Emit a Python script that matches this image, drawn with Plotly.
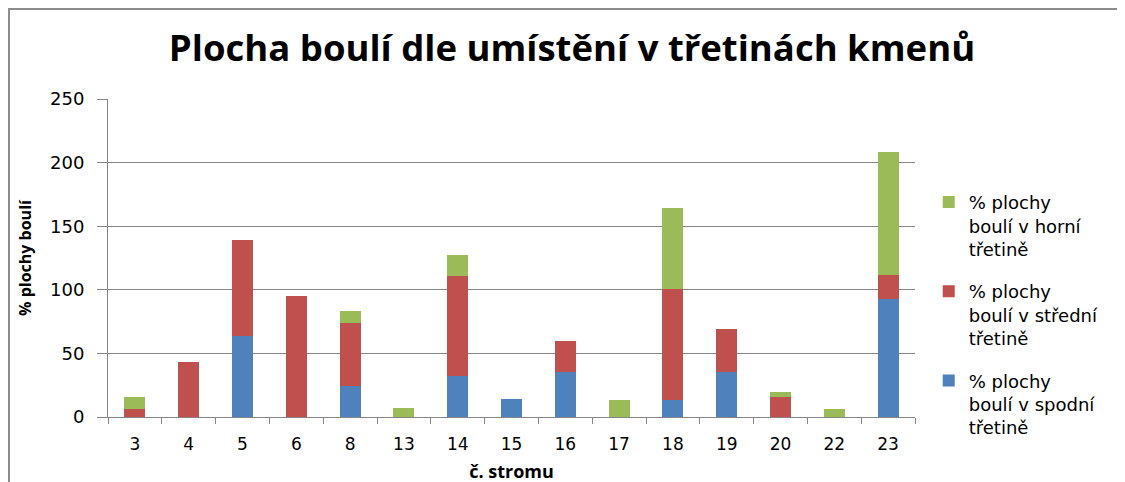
import plotly.graph_objects as go

categories = ["3", "4", "5", "6", "8", "13", "14", "15", "16", "17", "18", "19", "20", "22", "23"]
spodni = [0, 0, 64, 0, 24, 0, 32, 14, 35, 0, 13, 35, 0, 0, 93]
stredni = [6, 43, 75, 95, 50, 0, 79, 0, 25, 0, 88, 34, 16, 0, 19]
horni = [10, 0, 0, 0, 9, 7, 16, 0, 0, 13, 63, 0, 4, 6, 96]

names = ["% plochy<br>boulí v spodní<br>třetině",
         "% plochy<br>boulí v střední<br>třetině",
         "% plochy<br>boulí v horní<br>třetině"]
colors = ["#4F81BD", "#C0504D", "#9BBB59"]
ranks = [3, 2, 1]

small = "'DejaVu Sans', sans-serif"
bold = "'Open Sans', sans-serif"

fig = go.Figure()
for i, (vals, nm, col) in enumerate(zip([spodni, stredni, horni], names, colors)):
    fig.add_trace(go.Bar(x=categories, y=vals, name=nm, legendgroup=f"g{i}", legendrank=ranks[i],
                         marker=dict(color=col, line=dict(width=0))))

fig.update_layout(
    width=1125, height=482,
    barmode="stack", bargap=0.61,
    plot_bgcolor="white", paper_bgcolor="white",
    margin=dict(l=100, r=218, t=91, b=73, autoexpand=False),
    font=dict(family=small, size=17, color="#000000"),
    title=dict(text="<b>Plocha boulí dle umístění v třetinách kmenů</b>",
               x=564 / 1125, xref="container", xanchor="center", y=1 - 40 / 482, yref="container",
               yanchor="middle", font=dict(family=bold, size=36.5, color="#000")),
    legend=dict(traceorder="grouped", x=1.017, xanchor="left", y=0.733, yanchor="top",
                valign="top", font=dict(family=small, size=18), tracegroupgap=16, itemwidth=30),
    xaxis=dict(type="category", showline=True, linecolor="#868686", linewidth=1,
               ticks="outside", tickson="boundaries", ticklen=6, tickcolor="#868686",
               tickfont=dict(size=17), ticklabelstandoff=12,
               title=dict(text="<b>č. stromu</b>", font=dict(family=bold, size=18), standoff=11)),
    yaxis=dict(range=[0, 250], dtick=50, showgrid=True, gridcolor="#868686", gridwidth=1,
               showline=True, linecolor="#868686", ticks="outside", ticklen=10, tickcolor="#868686",
               tickfont=dict(size=18), zeroline=False, ticklabelstandoff=9,
               title=dict(text="<b>% plochy boulí</b>", font=dict(family=bold, size=16), standoff=14)),
    shapes=[dict(type="rect", xref="paper", yref="paper", x0=-0.1227, x1=1.254, y0=-0.3, y1=1.283,
                 line=dict(color="#8c8c8c", width=2), layer="below")],
)

fig.write_html("out.html")
